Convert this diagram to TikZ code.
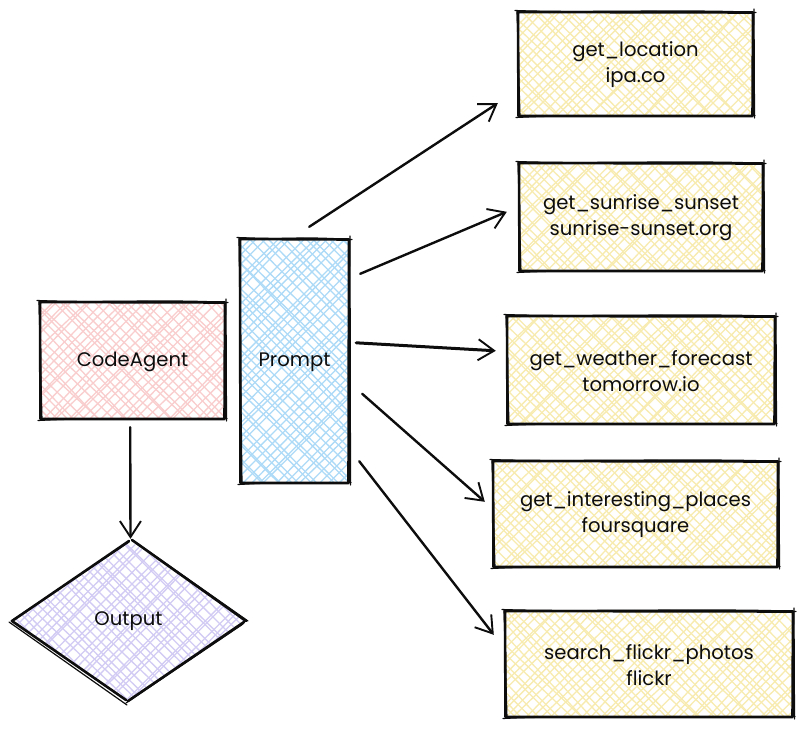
\documentclass[tikz,border=0pt]{standalone}
\usepackage{fontspec}
\setmainfont{Poppins}
\usetikzlibrary{arrows.meta,shapes.geometric}
\definecolor{pinkh}{HTML}{F9CDCD}
\definecolor{blueh}{HTML}{ADDAF7}
\definecolor{yellowh}{HTML}{F8EBB0}
\definecolor{purpleh}{HTML}{D2CBF3}
\tikzset{
  label/.style={font=\fontsize{19.6}{26}\selectfont,text=black!95,align=center,inner sep=0pt},
  boxnode/.style={label,rectangle},
  hatchline/.style={line width=1.3pt,line cap=round},
  inkmain/.style={line width=2.6pt,draw=black!95,line cap=round,line join=round},
  inkthin/.style={line width=1.2pt,draw=black!95,line cap=round,line join=round},
  sketcharrow/.style={line width=2.4pt,draw=black!95,line cap=round,
    -{Straight Barb[length=16pt,width=21pt,line width=1.9pt]}},
}
\newcommand{\hatchfill}[5]{%
  \pgfmathsetmacro{\hh}{#4-#2}
  \pgfmathtruncatemacro{\nn}{(#3-#1+\hh)/9+1}
  \foreach \i in {0,...,\nn}{
    \pgfmathsetmacro{\cc}{#1-\hh+\i*9}
    \pgfmathsetmacro{\ra}{\cc+5*rand}
    \pgfmathsetmacro{\rb}{\cc+\hh+5*rand}
    \pgfmathsetmacro{\rc}{\cc+5*rand}
    \pgfmathsetmacro{\rd}{\cc+\hh+5*rand}
    \draw[hatchline,#5] (\ra,#2) -- (\rb,#4);
    \draw[hatchline,#5] (\rc,#4) -- (\rd,#2);
  }%
}
\newcommand{\skbox}[7]{% name x1 y1 x2 y2 colour text
  \begin{scope}
    \clip (#2,#3) rectangle (#4,#5);
    \hatchfill{#2}{#3}{#4}{#5}{#6}
  \end{scope}
  \draw[inkmain] (#2,#3) -- (#4,#3+0.5) -- (#4-0.5,#5) -- (#2+0.5,#5) -- cycle;
  \draw[inkthin] (#2-3,#3-1.5) .. controls (#2+60,#3+1) and (#4-60,#3-3) .. (#4+3,#3+0.5);
  \draw[inkthin] (#4+1,#3-3) -- (#4+1.5,#5+2);
  \draw[inkthin] (#4+2,#5-0.5) .. controls (#4-60,#5+1) and (#2+60,#5-2) .. (#2-2,#5+1.5);
  \draw[inkthin] (#2+2,#5+1) -- (#2-1,#3-1);
  \pgfmathsetmacro{\bw}{#4-#2}
  \pgfmathsetmacro{\bh}{#5-#3}
  \pgfmathsetmacro{\bx}{(#2+#4)/2}
  \pgfmathsetmacro{\by}{(#3+#5)/2+1}
  \node[boxnode,minimum width=\bw pt,minimum height=\bh pt] (#1) at (\bx,\by) {#7};
}
\begin{document}
\begin{tikzpicture}[x=1pt,y=-1pt]
\pgfmathsetseed{4711}
\useasboundingbox (0,0) rectangle (800,729);
\skbox{agent}{40}{302}{225}{419}{pinkh}{CodeAgent}
\skbox{prompt}{240}{239}{349}{483}{blueh}{Prompt}
\skbox{loc}{518}{12}{753}{116}{yellowh}{get\_location\\ipa.co}
\skbox{sun}{519}{163}{763}{271}{yellowh}{get\_sunrise\_sunset\\sunrise-sunset.org}
\skbox{wea}{507}{316}{775}{424}{yellowh}{get\_weather\_forecast\\tomorrow.io}
\skbox{pla}{493}{461}{778}{567}{yellowh}{get\_interesting\_places\\foursquare}
\skbox{fli}{505}{611}{793}{717}{yellowh}{search\_flickr\_photos\\flickr}
% Output diamond
\begin{scope}
  \clip (130,541) -- (245,621) -- (127,702) -- (11,621) -- cycle;
  \hatchfill{11}{541}{246}{703}{purpleh}
\end{scope}
\draw[inkmain] (129,541) -- (12,621);
\draw[inkthin] (129,542) -- (11,621);
\draw[inkmain] (12,621) -- (126,700);
\draw[inkthin] (9,622) -- (127,705);
\draw[inkmain] (132,540) -- (246,621);
\draw[inkthin] (134,541) -- (248,621);
\draw[inkmain] (244,622) -- (128,701);
\draw[inkthin] (243,624) -- (126,703);
\node[label,diamond,aspect=1.45,minimum width=235pt,minimum height=162pt] (out) at (128.5,621) {Output};
% Connectors
\draw[sketcharrow] ([shift={(-95,7)}]agent.south east) -- ([shift={(2,-1)}]out.north);
\draw[sketcharrow] ([shift={(-40,-13)}]prompt.north east) -- ([shift={(-20,-14)}]loc.south west);
\draw[sketcharrow] ([shift={(11,34)}]prompt.north east) -- ([shift={(-12,48)}]sun.north west);
\draw[sketcharrow,line width=3pt] ([shift={(7,103)}]prompt.north east) -- ([shift={(-11,34)}]wea.north west);
\draw[sketcharrow] ([shift={(13,154)}]prompt.north east) -- ([shift={(-8,40)}]pla.north west);
\draw[sketcharrow] ([shift={(10,-23)}]prompt.south east) -- ([shift={(-11,23)}]fli.north west);
\end{tikzpicture}
\end{document}
